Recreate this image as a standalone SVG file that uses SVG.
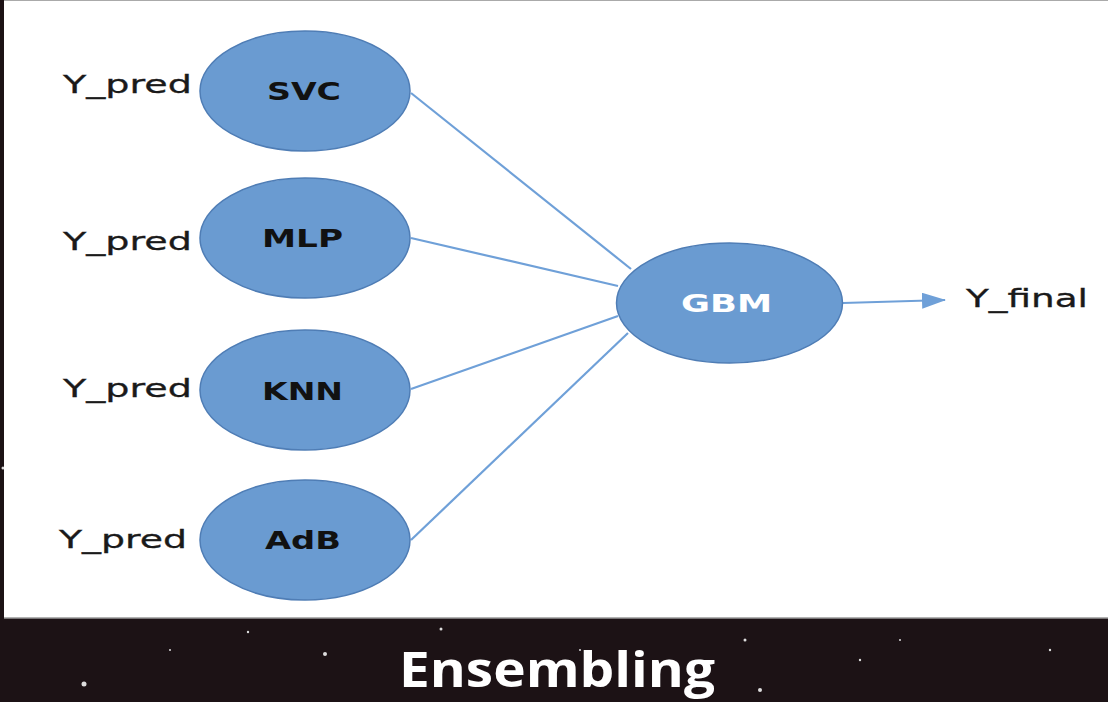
<svg xmlns="http://www.w3.org/2000/svg" width="1108" height="702" viewBox="0 0 1108 702">
<defs>
<style>
.node{fill:#6a9bd1;stroke:#4f7db5;stroke-width:1.5}
.lbl{font-family:"DejaVu Sans",Verdana,sans-serif;font-size:25px;font-weight:bold;fill:#111;text-anchor:start}
.side{font-family:"DejaVu Sans",Verdana,sans-serif;font-size:25px;fill:#1a1a1a;stroke:#1a1a1a;stroke-width:0.3}
.edge{stroke:#6fa0d8;stroke-width:2.2;fill:none}
.star{fill:#ddd}
</style>
<marker id="arr" markerWidth="24" markerHeight="16" refX="23" refY="8" orient="auto" markerUnits="userSpaceOnUse" viewBox="0 0 24 16">
<path d="M0,0 L24,8 L0,16 z" fill="#6fa0d8"/>
</marker>
</defs>
<rect x="0" y="0" width="1108" height="702" fill="#1c1215"/>
<g id="stars">
<circle class="star" cx="325" cy="654" r="2"/>
<circle class="star" cx="84" cy="684" r="2.5"/>
<circle class="star" cx="441" cy="629" r="1.5" fill="#ee9"/>
<circle class="star" cx="248" cy="632" r="1.2"/>
<circle class="star" cx="745" cy="640" r="1.5"/>
<circle class="star" cx="760" cy="690" r="2"/>
<circle class="star" cx="860" cy="660" r="1.2"/>
<circle class="star" cx="900" cy="640" r="1"/>
<circle class="star" cx="1050" cy="650" r="1.2"/>
<circle class="star" cx="580" cy="650" r="1"/>
<circle class="star" cx="170" cy="650" r="1"/>
<circle class="star" cx="3" cy="468" r="1.5"/>
</g>
<rect x="4" y="1" width="1104" height="617" fill="#ffffff"/>
<line x1="4" y1="618" x2="1108" y2="618" stroke="#999" stroke-width="1.5"/>
<line x1="4" y1="0.5" x2="1108" y2="0.5" stroke="#aaa" stroke-width="1"/>
<g id="connectors">
<line class="edge" x1="411" y1="93" x2="631" y2="269"/>
<line class="edge" x1="411" y1="238" x2="618" y2="286"/>
<line class="edge" x1="411" y1="389" x2="618" y2="316"/>
<line class="edge" x1="411" y1="540" x2="628" y2="333"/>
<line class="edge" x1="843" y1="303" x2="945" y2="300" marker-end="url(#arr)"/>
</g>
<g id="svc">
<ellipse class="node" cx="305" cy="91" rx="105" ry="60"/>
<text class="lbl" x="267" y="100" textLength="74" lengthAdjust="spacingAndGlyphs">SVC</text>
<text class="side" x="63" y="93" textLength="129" lengthAdjust="spacingAndGlyphs">Y_pred</text>
</g>
<g id="mlp">
<ellipse class="node" cx="305" cy="238" rx="105" ry="60"/>
<text class="lbl" x="262" y="247" textLength="81" lengthAdjust="spacingAndGlyphs">MLP</text>
<text class="side" x="63" y="250" textLength="129" lengthAdjust="spacingAndGlyphs">Y_pred</text>
</g>
<g id="knn">
<ellipse class="node" cx="305" cy="390" rx="105" ry="60"/>
<text class="lbl" x="262" y="400" textLength="81" lengthAdjust="spacingAndGlyphs">KNN</text>
<text class="side" x="63" y="397" textLength="129" lengthAdjust="spacingAndGlyphs">Y_pred</text>
</g>
<g id="adb">
<ellipse class="node" cx="305" cy="540" rx="105" ry="60"/>
<text class="lbl" x="265" y="549" textLength="76" lengthAdjust="spacingAndGlyphs">AdB</text>
<text class="side" x="59" y="548" textLength="128" lengthAdjust="spacingAndGlyphs">Y_pred</text>
</g>
<g id="gbm">
<ellipse class="node" cx="729.5" cy="303" rx="113" ry="60"/>
<text class="lbl" x="681" y="312" textLength="91" lengthAdjust="spacingAndGlyphs" style="fill:#ffffff">GBM</text>
</g>
<g id="yfinal">
<text class="side" x="966" y="307" textLength="122" lengthAdjust="spacingAndGlyphs">Y_final</text>
</g>
<text x="399" y="687" font-family="'Open Sans','Liberation Sans',sans-serif" font-weight="bold" font-size="48" fill="#ffffff" textLength="316" lengthAdjust="spacingAndGlyphs">Ensembling</text>
</svg>
